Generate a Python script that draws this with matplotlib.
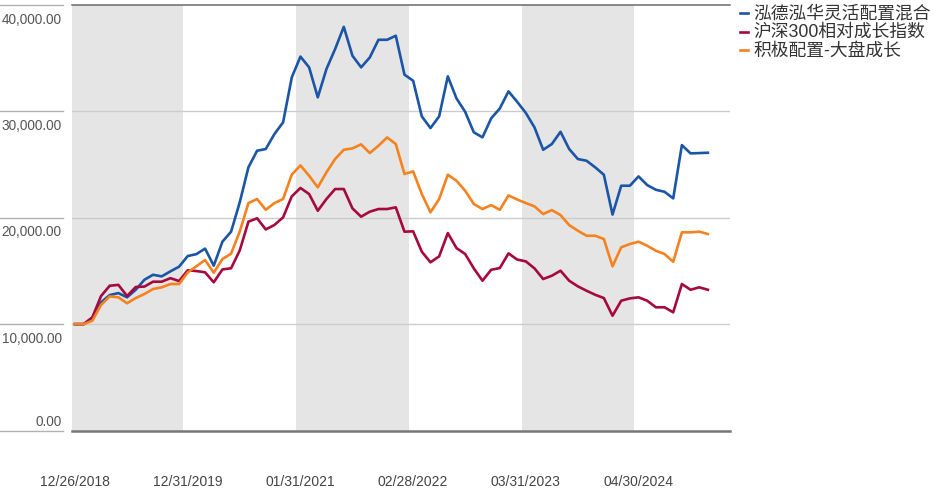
import matplotlib
matplotlib.use("Agg")
import matplotlib.pyplot as plt
from matplotlib.lines import Line2D
from matplotlib.transforms import ScaledTranslation, blended_transform_factory

# Growth of 10,000 (monthly points, first point 12/26/2018)
fund = [10000, 10000, 10570, 12050, 12730, 12920, 12520, 13230, 14170, 14640,
        14490, 14960, 15400, 16400, 16580, 17100, 15490, 17750, 18690, 21450,
        24740, 26300, 26460, 27870, 28970, 33190, 35150, 34140, 31320, 33980,
        35860, 37950, 35230, 34140, 35070, 36730, 36730, 37110, 33450, 32880,
        29530, 28430, 29530, 33290, 31220, 29960, 28030, 27560, 29340, 30280,
        31880, 30900, 29850, 28490, 26390, 26930, 28080, 26460, 25520, 25360,
        24740, 24040, 20300, 23010, 23010, 23890, 23070, 22630, 22440, 21820,
        26830, 26050, 26080, 26110]
index = [10000, 10000, 10640, 12640, 13610, 13690, 12640, 13490, 13530, 13990,
         13990, 14320, 14050, 15060, 14990, 14870, 13930, 15140, 15250, 16930,
         19630, 19950, 18900, 19320, 20040, 22010, 22800, 22230, 20660, 21760,
         22700, 22700, 20880, 20100, 20570, 20820, 20820, 20980, 18690, 18720,
         16810, 15810, 16370, 18560, 17150, 16590, 15240, 14080, 15110, 15270,
         16650, 16070, 15900, 15240, 14240, 14550, 15020, 14080, 13550, 13140,
         12760, 12450, 10790, 12200, 12420, 12520, 12200, 11580, 11580, 11110,
         13770, 13230, 13460, 13230]
category = [10000, 10000, 10320, 11800, 12610, 12520, 11960, 12450, 12830, 13300,
            13460, 13770, 13770, 14860, 15440, 16030, 14830, 16120, 16620, 18700,
            21380, 21760, 20750, 21380, 21760, 24060, 24920, 23950, 22860, 24270,
            25520, 26390, 26520, 26900, 26080, 26770, 27550, 26930, 24110, 24360,
            22230, 20510, 21760, 24040, 23480, 22540, 21290, 20820, 21190, 20750,
            22100, 21720, 21380, 21070, 20350, 20720, 20250, 19310, 18780, 18310,
            18310, 18000, 15430, 17220, 17530, 17750, 17370, 16900, 16590, 15860,
            18630, 18630, 18690, 18470]

series_names = ['泓德泓华灵活配置混合', '沪深300相对成长指数', '积极配置-大盘成长']
series_colors = ['#1B55A5', '#A6093D', '#F5821F']

tick_labels = ['12/26/2018', '12/31/2019', '01/31/2021', '02/28/2022',
               '03/31/2023', '04/30/2024']
tick_idx = [0, 13, 26, 39, 52, 65]
y_ticks = [0, 10000, 20000, 30000, 40000]

font = ['Liberation Sans', 'DejaVu Sans']
legend_font = ['Liberation Sans', 'Noto Sans CJK SC', 'DejaVu Sans']

fig = plt.figure(figsize=(9.4, 5.02), dpi=100)
ax = fig.add_axes([72 / 940, (502 - 431.5) / 502, 658 / 940, 425.5 / 502])

x = list(range(len(fund)))

# alternating gray bands, one every other tick period
for k in range(0, len(tick_idx), 2):
    start = tick_idx[k] - 0.5
    end = tick_idx[k + 1] - 0.5
    ax.axvspan(start, end, color='#e5e5e5', lw=0, zorder=0)

for yv in y_ticks[1:-1]:
    ax.axhline(yv, color='#cccccc', lw=1.0, zorder=1)

for vals, name, col in zip([fund, index, category], series_names, series_colors):
    ax.plot(x, vals, color=col, lw=1.9, label=name, zorder=3)

ax.set_xlim(-0.35, 75.55)
ax.set_ylim(0, 40000)

for side in ['left', 'right']:
    ax.spines[side].set_visible(False)
ax.spines['top'].set_color('#6a6a6a')
ax.spines['top'].set_linewidth(1.1)
ax.spines['bottom'].set_color('#777777')
ax.spines['bottom'].set_linewidth(1.8)

ax.set_xticks(tick_idx)
ax.set_xticklabels(tick_labels, family=font, fontsize=10, color='#444444')
ax.tick_params(axis='x', length=0, pad=31)

ax.set_yticks(y_ticks)
ax.set_yticklabels(['{:,.2f}'.format(v) for v in y_ticks], family=font,
                   fontsize=9.8, color='#555555')
ax.tick_params(axis='y', length=0, pad=7.5)
down = ScaledTranslation(0, -4.7 / 72, fig.dpi_scale_trans)
up = ScaledTranslation(0, 4.0 / 72, fig.dpi_scale_trans)
for lab, yv in zip(ax.get_yticklabels(), y_ticks):
    if yv == 0:
        # bottom label sits above its rule
        lab.set_va('baseline')
        lab.set_transform(lab.get_transform() + up)
    else:
        lab.set_va('top')
        lab.set_transform(lab.get_transform() + down)

# short rules above the y labels
trans = blended_transform_factory(ax.transAxes, ax.transData)
for yv in y_ticks:
    ax.plot([-72 / 658, -9 / 658], [yv, yv], transform=trans, color='#b0b0b0',
            lw=1.0, clip_on=False)

# legend, drawn by hand to keep rows tight
row_y = [14, 32.5, 51]
for name, col, ry in zip(series_names, series_colors, row_y):
    yf = 1 - ry / 502
    fig.add_artist(Line2D([740 / 940, 748 / 940], [yf, yf], color=col, lw=1.9,
                          transform=fig.transFigure))
    fig.text(753 / 940, yf, name, family=legend_font, fontsize=12.8,
             color='#333333', va='center', ha='left')

fig.savefig('out.png', dpi=100)
